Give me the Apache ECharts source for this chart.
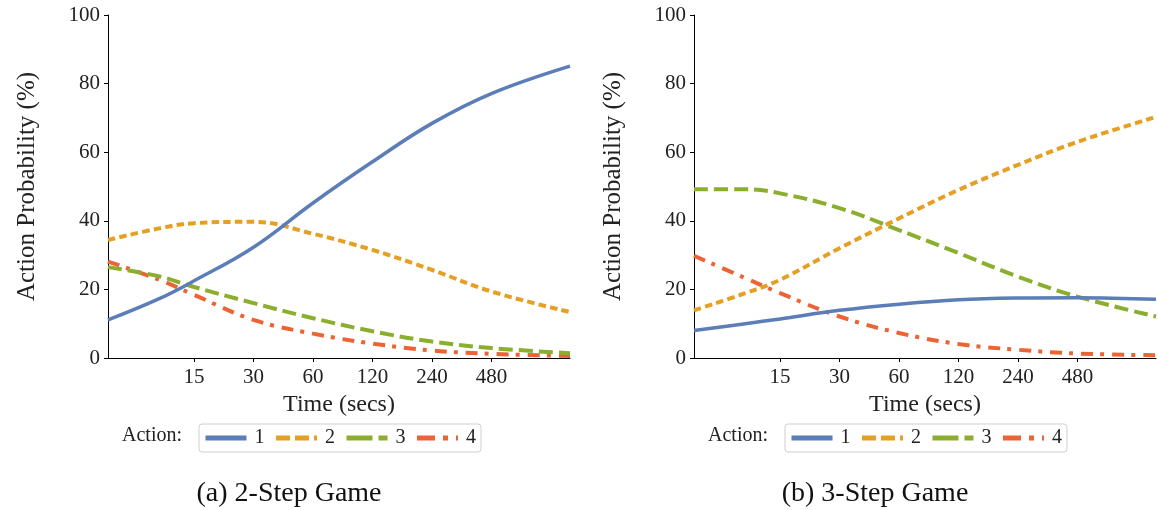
<!DOCTYPE html>
<html>
<head>
<meta charset="utf-8">
<script src="https://cdn.jsdelivr.net/npm/echarts@6/dist/echarts.min.js"></script>
<style>
html,body{margin:0;padding:0;background:#fff;}
#c{width:1158px;height:510px;}
</style>
</head>
<body>
<div id="c"></div>
<script>
// Time points (seconds) where values were read
const times = [5.5, 10, 15, 30, 60, 120, 240, 480, 1200];
const xTickLabels = [15, 30, 60, 120, 240, 480];
const xMinSecs = 5.5;
const xMaxSecs = 1200;

// (a) 2-Step Game
const twoStep_a1 = [11.1, 17.3, 22.5, 32.3, 45.2, 57.2, 68.4, 77.1, 85.1];
const twoStep_a2 = [34.4, 37.8, 39.3, 39.7, 36.2, 31.5, 25.7, 19.4, 13.4];
const twoStep_a3 = [26.5, 23.8, 20.7, 16.0, 11.6, 7.8, 4.8, 2.9, 1.4];
const twoStep_a4 = [28.1, 22.8, 18.4, 11.1, 7.1, 4.2, 2.2, 1.2, 0.6];

// (b) 3-Step Game
const threeStep_a1 = [8.0, 10.0, 11.4, 13.9, 15.7, 17.0, 17.5, 17.6, 17.1];
const threeStep_a2 = [13.9, 18.9, 22.8, 32.0, 40.7, 49.0, 56.3, 63.0, 70.3];
const threeStep_a3 = [49.2, 49.2, 48.0, 43.7, 37.3, 30.6, 23.7, 17.9, 12.1];
const threeStep_a4 = [29.8, 23.3, 18.9, 12.1, 7.3, 4.1, 2.4, 1.3, 0.8];

const actionNames = ['1', '2', '3', '4'];
const captions = ['(a) 2-Step Game', '(b) 3-Step Game'];

const colors = ['#5b7db8', '#e5a024', '#8bae2f', '#ec6336'];
const dashes = ['solid', [7.5, 4.2], [14, 6], [12, 7, 4, 8]];
const legendDashes = ['solid', [14, 5], [26, 6], [18, 8, 5, 8]];
const serif = '"Liberation Serif", "DejaVu Serif", serif';
const txt = '#222';

const panels = [
  {left: 108, data: [twoStep_a1, twoStep_a2, twoStep_a3, twoStep_a4]},
  {left: 694, data: [threeStep_a1, threeStep_a2, threeStep_a3, threeStep_a4]}
];
const gw = 462, gtop = 15, gh = 343;

const chart = echarts.init(document.getElementById('c'), null, {renderer: 'canvas'});

const grids = [], xAxes = [], yAxes = [], series = [], legends = [], graphics = [];
panels.forEach((p, pi) => {
  grids.push({left: p.left, top: gtop, width: gw, height: gh});
  xAxes.push({
    gridIndex: pi, type: 'value',
    min: Math.log2(xMinSecs), max: Math.log2(xMaxSecs),
    name: 'Time (secs)', nameLocation: 'middle', nameGap: 34,
    nameTextStyle: {fontFamily: serif, fontSize: 24, color: txt},
    axisLine: {show: true, lineStyle: {color: '#000', width: 1}},
    axisTick: {show: true, length: 4, lineStyle: {color: '#000'}, customValues: xTickLabels.map(v => Math.log2(v))},
    axisLabel: {show: true, fontFamily: serif, fontSize: 21, color: txt, margin: 9,
      customValues: xTickLabels.map(v => Math.log2(v)),
      formatter: v => String(Math.round(Math.pow(2, v)))},
    splitLine: {show: false}
  });
  yAxes.push({
    gridIndex: pi, type: 'value', min: 0, max: 100, interval: 20,
    name: 'Action Probability (%)', nameLocation: 'middle', nameGap: 68, nameRotate: 90,
    nameTextStyle: {fontFamily: serif, fontSize: 25, color: txt},
    axisLine: {show: true, lineStyle: {color: '#000', width: 1}},
    axisTick: {show: true, length: 4, lineStyle: {color: '#000'}},
    axisLabel: {fontFamily: serif, fontSize: 21, color: txt, margin: 8},
    splitLine: {show: false}
  });
  p.data.forEach((vals, si) => {
    series.push({
      name: actionNames[si], type: 'line', xAxisIndex: pi, yAxisIndex: pi,
      data: times.map((t, i) => [Math.log2(t), vals[i]]),
      smooth: 0.4, symbol: 'none', z: 10 - si,
      lineStyle: {color: colors[si], width: si === 0 ? 3.5 : 4, type: dashes[si], cap: 'butt'},
      itemStyle: {color: colors[si]}
    });
  });
  const legLeft = p.left + 91;
  legends.push({
    data: actionNames.map((n, si) => ({name: n, lineStyle: {type: legendDashes[si], width: 5, color: colors[si]}})),
    left: legLeft, top: 424, orient: 'horizontal',
    itemWidth: 41, itemHeight: 17, itemGap: 9,
    padding: [4, 5, 4, 4],
    borderColor: '#cfcfcf', borderWidth: 1, borderRadius: 3,
    itemStyle: {color: 'rgba(0,0,0,0)', borderWidth: 0, opacity: 0},
    lineStyle: {width: 5},
    textStyle: {fontFamily: serif, fontSize: 20, color: txt, padding: [0, 0, 0, 3]},
    selectedMode: false
  });
  graphics.push({type: 'text', left: p.left + 14, top: 426,
    style: {text: 'Action:', font: '20px ' + serif, fill: txt}});
  graphics.push({type: 'text', x: p.left + 181, y: 494,
    style: {text: captions[pi], font: '28px "Liberation Serif", serif', fill: '#111', textAlign: 'center', textVerticalAlign: 'middle'}});
});

chart.setOption({
  animation: false,
  backgroundColor: '#fff',
  grid: grids, xAxis: xAxes, yAxis: yAxes, series: series,
  legend: legends, graphic: graphics
});
</script>
</body>
</html>
